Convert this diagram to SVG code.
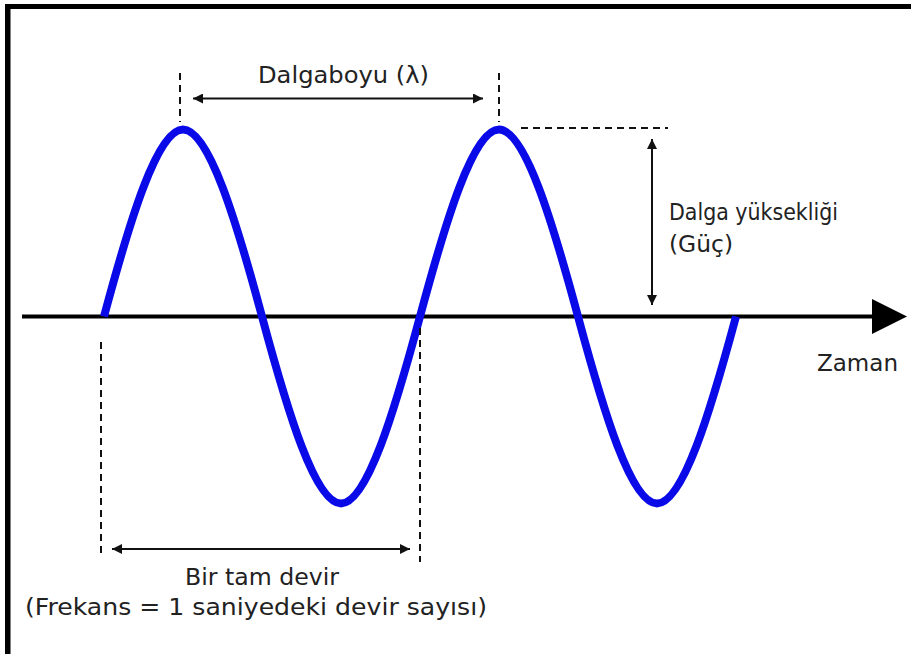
<svg xmlns="http://www.w3.org/2000/svg" width="911" height="654" viewBox="0 0 911 654">
<defs>
<style>
.t{font-family:"DejaVu Sans","Liberation Sans",sans-serif;font-size:23px;fill:#222;}
.dash{stroke:#111;stroke-width:2;stroke-dasharray:7 5;fill:none;}
.arr{stroke:#111;stroke-width:2;fill:none;marker-start:url(#ah);marker-end:url(#ah);}
</style>
<marker id="ah" viewBox="0 0 10 10" refX="10" refY="5" markerWidth="6" markerHeight="5" markerUnits="strokeWidth" orient="auto-start-reverse">
<path d="M0,0 L10,5 L0,10 z" fill="#111"/>
</marker>
</defs>
<rect width="911" height="654" fill="#fff"/>
<g id="frame" fill="#000">
<rect x="5" y="4" width="906" height="5"/>
<rect x="5" y="4" width="5.5" height="650"/>
</g>
<g id="axis">
<line x1="22" y1="316.5" x2="874" y2="316.5" stroke="#000" stroke-width="4"/>
<polygon points="872,299 907,316.5 872,334" fill="#000"/>
</g>
<g id="wave">
<path d="M104,316.5 C129.76,220.7 157.23,129.5 183,129.5 C208.77,129.5 236.24,220.7 262,316.5 C287.76,412.3 315.23,503.5 341,503.5 C366.77,503.5 394.24,412.3 420,316.5 C445.76,220.7 473.23,129.5 499,129.5 C524.77,129.5 552.24,220.7 578,316.5 C603.76,412.3 631.23,503.5 657,503.5 C682.77,503.5 710.24,412.3 736,316.5" fill="none" stroke="#0a0ae8" stroke-width="8" stroke-linejoin="round"/>
</g>
<g id="connectors">
<line class="dash" x1="180" y1="73" x2="180" y2="122"/>
<line class="dash" x1="499" y1="73" x2="499" y2="122"/>
<line class="dash" x1="521" y1="128" x2="668" y2="128"/>
<line class="dash" x1="101" y1="342" x2="101" y2="557"/>
<line class="dash" x1="420" y1="328" x2="420" y2="562"/>
<line class="arr" x1="193" y1="98.5" x2="483" y2="98.5"/>
<line class="arr" x1="652" y1="139" x2="652" y2="305"/>
<line class="arr" x1="112" y1="549" x2="410" y2="549"/>
</g>
<g id="labels">
<text class="t" x="258" y="83" textLength="171" lengthAdjust="spacingAndGlyphs">Dalgaboyu (λ)</text>
<text class="t" x="669" y="220" textLength="169" lengthAdjust="spacingAndGlyphs">Dalga yüksekliği</text>
<text class="t" x="669" y="252" textLength="64" lengthAdjust="spacingAndGlyphs">(Güç)</text>
<text class="t" x="817" y="371" textLength="81" lengthAdjust="spacingAndGlyphs">Zaman</text>
<text class="t" x="185" y="585" textLength="154" lengthAdjust="spacingAndGlyphs">Bir tam devir</text>
<text class="t" x="25" y="615" textLength="462" lengthAdjust="spacingAndGlyphs">(Frekans = 1 saniyedeki devir sayısı)</text>
</g>
</svg>
